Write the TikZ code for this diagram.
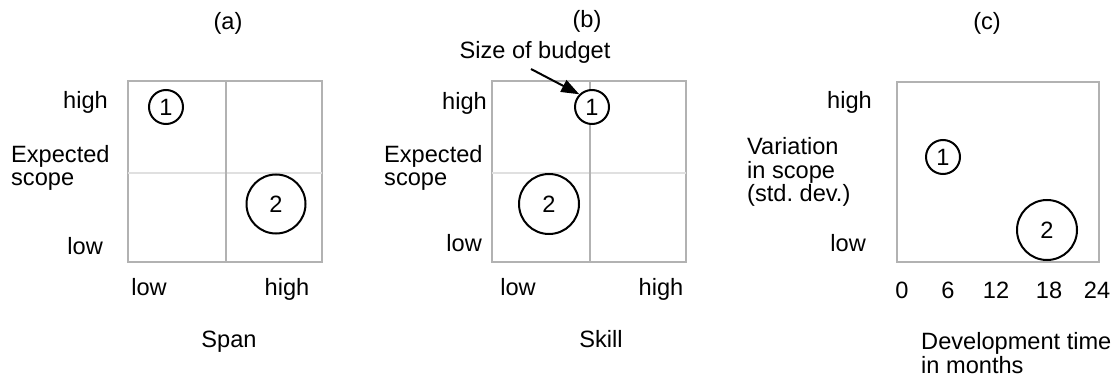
\documentclass[tikz,border=0pt]{standalone}
\usepackage{fontspec}
\setmainfont{Liberation Sans}
\usetikzlibrary{arrows.meta}
\begin{document}
\begin{tikzpicture}[x=1pt,y=-1pt,
  every node/.style={font=\fontsize{23.6}{23.5}\selectfont, inner sep=0pt},
  frame/.style={draw=black!30, line width=2.4pt},
  vmid/.style={draw=black!30, line width=2.4pt},
  hmid/.style={draw=black!12, line width=2.4pt},
  bubble/.style={circle, draw=black, line width=2pt, minimum size=#1, inner sep=0pt},
  lefttxt/.style={anchor=west, align=left},
  pointer/.style={-{Triangle[length=18pt,width=13pt]}, line width=2pt}]
\useasboundingbox (0,0) rectangle (1119,377);
% ---------- (a)
\draw[frame] (128,81) rectangle (322,262);
\draw[hmid] (128,173) -- (322,173);
\draw[vmid] (226,81) -- (226,262);
\node[anchor=base] (ta) at (228,30) {(a)};
\node[bubble=34pt] (a1) at (166,107) {1};
\node[bubble=59pt] (a2) at (276,204) {2};
\node[anchor=base east] (ahigh) at (108,109) {high};
\node[lefttxt] (aexp) at (11,168) {Expected\\scope};
\node[anchor=base east] (alow) at (103,254) {low};
\node[anchor=base] (axlow) at (149,295) {low};
\node[anchor=base] (axhigh) at (287,295) {high};
\node[anchor=base] (aspan) at (229,347) {Span};
% ---------- (b)
\draw[frame] (492,81) rectangle (686,262);
\draw[hmid] (492,173) -- (686,173);
\draw[vmid] (590,81) -- (590,262);
\node[anchor=base] (tb) at (587,28) {(b)};
\node[bubble=34pt, fill=white] (b1) at (592,107) {1};
\node[bubble=60pt] (b2) at (549,204) {2};
\node[anchor=base] (budget) at (535,59) {Size of budget};
\coordinate (bstart) at (531,69);
\draw[pointer] (bstart) -- (b1.north west);
\node[anchor=base east] (bhigh) at (487,110) {high};
\node[lefttxt] (bexp) at (384,168) {Expected\\scope};
\node[anchor=base east] (blow) at (482,251) {low};
\node[anchor=base] (bxlow) at (518,295) {low};
\node[anchor=base] (bxhigh) at (661,295) {high};
\node[anchor=base] (bskill) at (601,347) {Skill};
% ---------- (c)
\draw[frame] (897,82) rectangle (1099,262);
\node[anchor=base] (tc) at (987,30) {(c)};
\node[bubble=34pt] (c1) at (943,157) {1};
\node[bubble=60pt, fill=white] (c2) at (1047,230) {2};
\node[anchor=base east] (chigh) at (872,109) {high};
\node[lefttxt] (cvar) at (747,172) {Variation\\in scope\\(std.~dev.)};
\node[anchor=base east] (clow) at (866,251) {low};
\node[anchor=base] (t0) at (902,298) {0};
\node[anchor=base] (t6) at (948,298) {6};
\node[anchor=base] (t12) at (996,298) {12};
\node[anchor=base] (t18) at (1049,298) {18};
\node[anchor=base] (t24) at (1097,298) {24};
\node[lefttxt] (cdev) at (921,353) {Development time\\in months};
\end{tikzpicture}
\end{document}
